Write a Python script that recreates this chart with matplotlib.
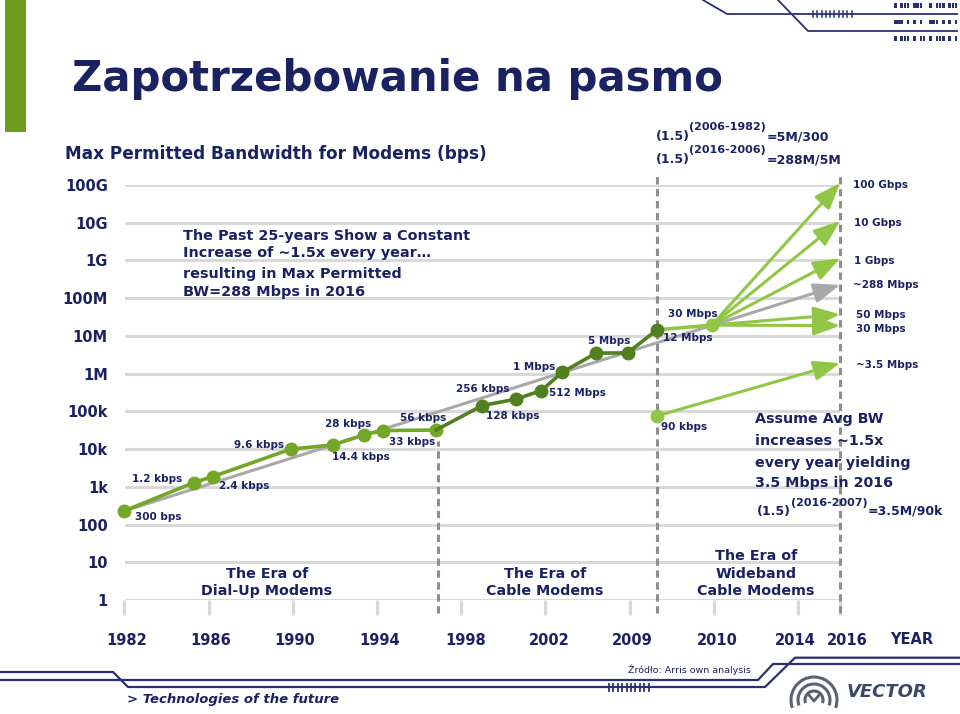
import numpy as np
import matplotlib.pyplot as plt
from matplotlib.patches import Rectangle, Arc
from matplotlib.transforms import ScaledTranslation

NAVY = '#1a2262'
DIAL_GREEN = '#74a628'
CABLE_GREEN = '#527f1f'
WIDE_GREEN = '#92c646'
TREND_GREY = '#a9a9a9'
GRID_GREY = '#d9d9d9'
DASH_GREY = '#8f8f8f'

# ---- data (x = year, y = bps) ----
dialup_years = [1982, 1985.3, 1986.2, 1989.9, 1991.9, 1993.4, 1994.3, 1996.8]
dialup_bps = [231, 1.3e3, 1.87e3, 1.0e4, 1.29e4, 2.43e4, 3.1e4, 3.2e4]

cable_years = [1996.8, 1999.0, 2000.6, 2001.8, 2002.8, 2004.4, 2005.9, 2007.3]
cable_bps = [3.2e4, 1.43e5, 2.11e5, 3.56e5, 1.09e6, 3.49e6, 3.56e6, 1.45e7]

wide_years = [2007.3, 2009.9]
wide_bps = [1.45e7, 1.93e7]

fan_end_year = 2016
fan_targets = [1.14e11, 1.12e10, 1.14e9, 3.72e7, 1.88e7]   # 100G, 10G, 1G, 50M, 30M

trend_years = [1982, 2016]
trend_bps = [231, 2.25e8]          # ~288 Mbps trend

avg_years = [2007.3, 2016]
avg_bps = [7.6e4, 1.9e6]           # 90 kbps -> ~3.5 Mbps

dividers = [1996.87, 2007.3, 2016]

year_ticks = [1982, 1986, 1990, 1994, 1998, 2002, 2006, 2010, 2014, 2016]
year_labels = ['1982', '1986', '1990', '1994', '1998', '2002', '2009', '2010', '2014', '2016']
year_label_shift = [2, 2, 2, 3, 4, 4, 3, 3, -3, 7]   # px nudges as on the slide

y_ticks = [10.0 ** k for k in range(12)]
y_labels = ['1', '10', '100', '1k', '10k', '100k', '1M', '10M', '100M', '1G', '10G', '100G']

# point labels: text, left x px, vertical centre px
point_labels = [
    ('300 bps', 135, 516), ('1.2 kbps', 132, 478), ('2.4 kbps', 219, 485),
    ('9.6 kbps', 234, 444), ('14.4 kbps', 332, 456), ('28 kbps', 325, 423),
    ('33 kbps', 389, 441), ('56 kbps', 400, 417), ('256 kbps', 456, 388),
    ('128 kbps', 486, 415), ('512 Mbps', 549, 392), ('1 Mbps', 513, 366),
    ('5 Mbps', 588, 340), ('30 Mbps', 668, 313), ('12 Mbps', 663, 337),
    ('90 kbps', 661, 426),
]
right_labels = [
    ('100 Gbps', 853, 184), ('10 Gbps', 854, 222), ('1 Gbps', 854, 260),
    ('~288 Mbps', 853, 284), ('50 Mbps', 856, 314), ('30 Mbps', 856, 328),
    ('~3.5 Mbps', 856, 364),
]

fig = plt.figure(figsize=(9.6, 7.14), dpi=100)
plt.rcParams['font.family'] = ['DejaVu Sans']

# main chart area: 1982..2016 -> px 124.5..840.2, 1..1e11 -> px 600..185
ax = fig.add_axes([124.5 / 960, 114 / 714, (840.2 - 124.5) / 960, 415 / 714], zorder=1)
ax.set_yscale('log')
ax.set_xlim(1982, 2016)
ax.set_ylim(1, 1e11)
for s in ax.spines.values():
    s.set_visible(False)
ax.set_yticks(y_ticks)
ax.set_yticklabels(y_labels, fontsize=10.5, fontweight='bold', color=NAVY)
ax.yaxis.set_minor_locator(plt.NullLocator())
ax.tick_params(axis='y', length=0, pad=12)
ax.set_xticks(year_ticks)
ax.set_xticklabels(year_labels, fontsize=10.5, fontweight='bold', color=NAVY)
ax.tick_params(axis='x', length=11, width=2.2, color=GRID_GREY, pad=13)
for lab, dx in zip(ax.get_xticklabels(), year_label_shift):
    lab.set_transform(lab.get_transform() + ScaledTranslation(dx / 100, 0, fig.dpi_scale_trans))
ax.grid(axis='y', color=GRID_GREY, lw=2.2)
ax.set_axisbelow(True)

# era dividers
for x in dividers:
    top = 1.66e4 if x < 2000 else 2.1e11
    ax.plot([x, x], [0.45, top], color=DASH_GREY, lw=2.2, ls=(0, (2.4, 1.5)),
            clip_on=False, zorder=1)

# trend arrow (grey)
ax.annotate('', xy=(trend_years[1], trend_bps[1]), xytext=(trend_years[0], trend_bps[0]),
            annotation_clip=False, zorder=2,
            arrowprops=dict(arrowstyle='-|>,head_length=0.8,head_width=0.3', mutation_scale=20,
                            color=TREND_GREY, lw=2.2, shrinkA=0, shrinkB=0))

ax.plot(dialup_years, dialup_bps, color=DIAL_GREEN, lw=2.6, marker='o', ms=9,
        clip_on=False, zorder=4)
ax.plot(cable_years, cable_bps, color=CABLE_GREEN, lw=2.6, zorder=4, clip_on=False)
ax.plot(cable_years[1:], cable_bps[1:], ls='none', marker='o', ms=9, color=CABLE_GREEN,
        zorder=5, clip_on=False)
ax.plot(wide_years, wide_bps, color=WIDE_GREEN, lw=2.6, zorder=3)
ax.plot(wide_years[1:], wide_bps[1:], ls='none', marker='o', ms=9, color=WIDE_GREEN, zorder=6)

for tgt in fan_targets:
    ax.annotate('', xy=(fan_end_year, tgt), xytext=(wide_years[-1], wide_bps[-1]),
                annotation_clip=False, zorder=3,
                arrowprops=dict(arrowstyle='-|>,head_length=0.8,head_width=0.3',
                                mutation_scale=20, color=WIDE_GREEN, lw=2.2,
                                shrinkA=0, shrinkB=0))

ax.annotate('', xy=(avg_years[1], avg_bps[1]), xytext=(avg_years[0], avg_bps[0]),
            annotation_clip=False, zorder=3,
            arrowprops=dict(arrowstyle='-|>,head_length=0.8,head_width=0.3', mutation_scale=20,
                            color=WIDE_GREEN, lw=2.2, shrinkA=0, shrinkB=0))
ax.plot(avg_years[:1], avg_bps[:1], ls='none', marker='o', ms=9, color=WIDE_GREEN, zorder=6)

# ---- slide layer in pixel coordinates ----
page = fig.add_axes([0, 0, 1, 1], zorder=3)
page.set_xlim(0, 960)
page.set_ylim(714, 0)
page.axis('off')


def say(x, y, s, size, ha='left', weight='bold', style='normal', color=NAVY):
    page.text(x, y, s, fontsize=size, ha=ha, va='baseline', fontweight=weight,
              fontstyle=style, color=color)


page.add_patch(Rectangle((5, 0), 21, 132, color='#6e9b1c', lw=0))
say(72, 90.7, 'Zapotrzebowanie na pasmo', 30.2)
say(65, 159.3, 'Max Permitted Bandwidth for Modems (bps)', 12.2)

say(656, 140, '(1.5)', 9)
say(689, 129.5, '(2006-1982)', 8)
say(767, 140, '=5M/300', 9)
say(656, 163.5, '(1.5)', 9)
say(689, 153, '(2016-2006)', 8)
say(767, 163.5, '=288M/5M', 9)

for t, y in zip(['The Past 25-years Show a Constant', 'Increase of ~1.5x every year…',
                 'resulting in Max Permitted', 'BW=288 Mbps in 2016'],
                [240, 257.5, 278.3, 295.7]):
    say(183, y, t, 10.4)

for t, y in zip(['Assume Avg BW', 'increases ~1.5x', 'every year yielding', '3.5 Mbps in 2016'],
                [423.5, 445, 466.5, 487]):
    say(755, y, t, 10.3)
say(757, 515, '(1.5)', 9)
say(791, 505.5, '(2016-2007)', 8)
say(868, 515, '=3.5M/90k', 9)

for t, x, y in point_labels + right_labels:
    say(x, y + 3.8, t, 7.5)

for lines, cx, ys in [(['The Era of', 'Dial-Up Modems'], 267, [577.5, 595.3]),
                      (['The Era of', 'Cable Modems'], 545, [577.5, 595.3]),
                      (['The Era of', 'Wideband', 'Cable Modems'], 756, [560.5, 577.5, 595.3])]:
    for t, y in zip(lines, ys):
        say(cx, y, t, 10.3, ha='center')

say(912, 644.5, 'YEAR', 10.5, ha='center')

# bottom decoration
page.plot([0, 113, 128, 765, 795, 960], [672, 672, 687, 687, 657.7, 657.7], color='#2b3070', lw=1.6)
page.plot([0, 758, 773, 960], [680, 680, 664, 664], color='#2b3070', lw=1.6)
for x in np.arange(609, 652, 4.4):
    page.plot([x, x], [683.5, 690.5], color='#2b3070', lw=1.3)
say(628, 673, 'Źródło: Arris own analysis', 6.8, weight='normal')
say(127, 703.5, '> Technologies of the future', 9.5, style='italic')

# logo
for r in [23, 16, 9]:
    page.add_patch(Arc((814, 700), 2 * r, 2 * r, theta1=-200, theta2=20, color='#5b6272', lw=2.2))
page.plot([808, 814, 820], [694, 701, 694], color='#5b6272', lw=2)
say(847, 697, 'VECTOR', 13, style='italic', color='#3b4866')

# top-right decoration
page.plot([703, 727, 957], [0, 14, 14], color='#2b3070', lw=1.3)
page.plot([778, 808, 957], [0, 31, 31], color='#2b3070', lw=1.3)
for x in np.arange(813, 855, 4.3):
    page.plot([x, x], [11, 17], color='#2b3070', lw=1.1)
rows = ['#.###.###..#.###.###', '###.#.#.#..###.#.#.#', '#.###.#.##.#.###.#.#']
for r, pat in enumerate(rows):
    for c, ch in enumerate(pat):
        if ch == '#':
            page.add_patch(Rectangle((894 + c * 3.2, 3 + r * 16.5), 2.6, 4.5, color='#2b3070', lw=0))

fig.savefig('out.png', dpi=100)
